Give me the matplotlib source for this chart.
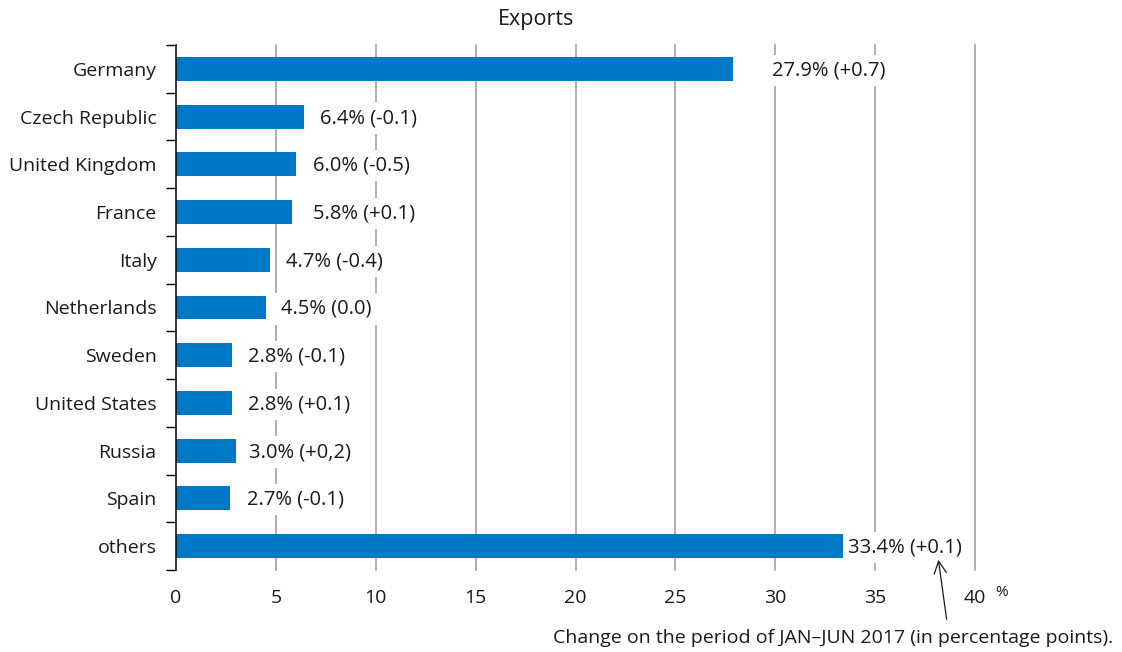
import numpy as np
import matplotlib.pyplot as plt

plt.rcParams['font.family'] = ['Open Sans', 'DejaVu Sans']

countries = ["Germany", "Czech Republic", "United Kingdom", "France", "Italy",
             "Netherlands", "Sweden", "United States", "Russia", "Spain", "others"]
shares = [27.9, 6.4, 6.0, 5.8, 4.7, 4.5, 2.8, 2.8, 3.0, 2.7, 33.4]
changes = ["+0.7", "-0.1", "-0.5", "+0.1", "-0.4", "0.0", "-0.1", "+0.1", "+0,2", "-0.1", "+0.1"]
xticks = [0, 5, 10, 15, 20, 25, 30, 35, 40]

# label gap after each bar end (data units)
label_gap = [1.95, 0.8, 0.85, 1.05, 0.8, 0.75, 0.8, 0.8, 0.65, 0.85, 0.25]

fig = plt.figure(figsize=(11.22, 6.52), dpi=100)
ax = fig.add_axes([176 / 1122, 1 - 570 / 652, 799 / 1122, 525 / 652])

y = np.arange(len(countries))
for xv in xticks[1:]:
    ax.axvline(xv, color="#9a9a9a", lw=1.1, zorder=0, clip_on=False)
ax.barh(y, shares, height=0.5, color="#0078c8", zorder=2)

for i in range(len(countries)):
    ax.text(shares[i] + label_gap[i], y[i] + 0.03, "%.1f%% (%s)" % (shares[i], changes[i]),
            va="center", ha="left", fontsize=14.5, color="#1a1a1a", zorder=3,
            bbox=dict(facecolor="white", edgecolor="none", pad=4))

ax.set_xlim(0, 40)
ax.set_ylim(10.5, -0.5)
ax.set_xticks(xticks)
ax.set_xticklabels([str(t) for t in xticks], fontsize=14, color="#1a1a1a")
ax.tick_params(axis="x", length=0, pad=14)
ax.set_yticks(y)
ax.set_yticklabels(countries, fontsize=14, color="#1a1a1a")
ax.tick_params(axis="y", which="major", length=0, pad=14)
ax.set_yticks(np.arange(-0.5, 11, 1), minor=True)
ax.tick_params(axis="y", which="minor", length=7, width=1, direction="out")
for s in ["top", "right", "bottom"]:
    ax.spines[s].set_visible(False)
ax.spines["left"].set_linewidth(1.1)

fig.text(536 / 1122, 1 - 19 / 652, "Exports", ha="center", va="center", fontsize=15.5, color="#1a1a1a")
fig.text(995 / 1122, 1 - 592 / 652, "%", ha="left", va="center", fontsize=11, color="#1a1a1a")

ax.annotate("", xy=(938 / 1122, 1 - 557 / 652), xycoords="figure fraction",
            xytext=(947 / 1122, 1 - 622 / 652), textcoords="figure fraction",
            arrowprops=dict(arrowstyle="->", color="#1a1a1a", lw=0.9, mutation_scale=22))
fig.text(553 / 1122, 1 - 638 / 652, "Change on the period of JAN\u2013JUN 2017 (in percentage points).",
         ha="left", va="center", fontsize=14, color="#1a1a1a")

fig.savefig("out.png", dpi=100)
